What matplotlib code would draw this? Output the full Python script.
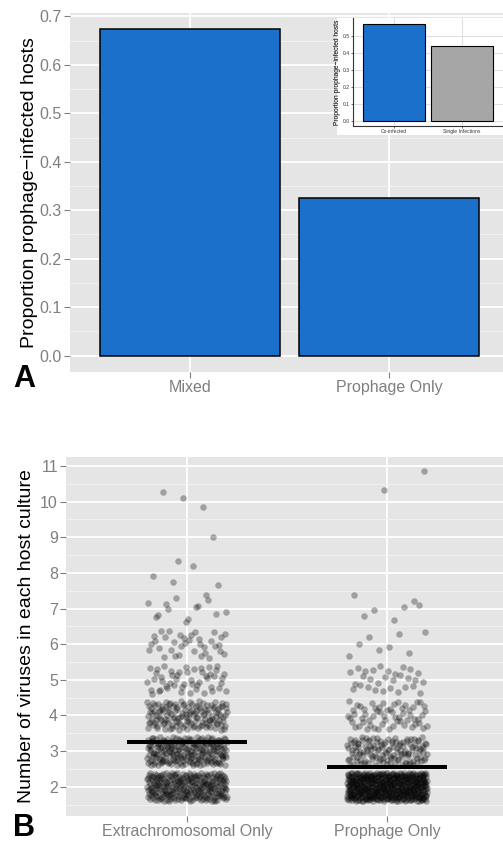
import matplotlib
matplotlib.use("Agg")
import matplotlib.pyplot as plt
from matplotlib.patches import Rectangle
from matplotlib.ticker import MultipleLocator
import numpy as np

plt.rcParams['font.family'] = ['Liberation Sans', 'DejaVu Sans']

# ---- panel A data ----
a_cats = ["Mixed", "Prophage Only"]
a_vals = [0.675, 0.325]

inset_cats = ["Co-infected", "Single Infections"]
inset_vals = [0.569, 0.440]

# ---- panel B data: number of cultures at each virus count ----
b_cats = ["Extrachromosomal Only", "Prophage Only"]
levels = [2, 3, 4, 5, 6, 7, 8, 9, 10, 11]
counts_extra = [260, 210, 140, 50, 35, 14, 5, 1, 3, 0]
counts_proph = [500, 130, 60, 30, 8, 7, 0, 0, 1, 1]
b_means = [3.26, 2.56]

BLUE = "#1A70CA"
GREY_BAR = "#A6A6A6"
PANEL = "#E5E5E5"
TICKC = "#7F7F7F"


def halton(i, base):
    f, r = 1.0, 0.0
    while i > 0:
        f /= base
        r += f * (i % base)
        i //= base
    return r


def gg_style(ax, minor_step):
    ax.set_facecolor(PANEL)
    for s in ax.spines.values():
        s.set_visible(False)
    ax.yaxis.set_minor_locator(MultipleLocator(minor_step))
    ax.grid(True, which='major', axis='both', color='white', lw=1.3, zorder=0)
    ax.grid(True, which='minor', axis='y', color='#F2F2F2', lw=0.7, zorder=0)
    ax.set_axisbelow(True)
    ax.tick_params(which='major', length=4.3, width=0.8, color=TICKC,
                   labelcolor=TICKC, labelsize=11.5, pad=1.5)
    ax.tick_params(which='minor', length=0)


fig = plt.figure(figsize=(5.03, 8.42), dpi=100)

# ---------------- Panel A ----------------
axA = fig.add_axes([70/503, 1-372/842, 433/503, 359/842])
gg_style(axA, 0.05)
xa = np.arange(1, len(a_cats)+1)
axA.bar(xa, a_vals, width=0.9, color=BLUE, edgecolor='black', lw=1.1, zorder=3)
axA.set_xticks(xa)
axA.set_xticklabels(a_cats)
axA.set_yticks(np.arange(0, 0.71, 0.1))
axA.set_ylim(-0.034, 0.707)
axA.set_xlim(0.397, 2.573)
axA.set_ylabel("Proportion prophage\u2212infected hosts", fontsize=14, color='black', labelpad=1)
fig.text(13/503, 1-387/842, "A", fontsize=22, fontweight='bold', ha='left', va='baseline')

# white backing behind the inset
fig.patches.append(Rectangle((337/503, 1-135/842), 166/503, 117/842,
                             transform=fig.transFigure, facecolor='white',
                             edgecolor='none', zorder=1))

axI = fig.add_axes([353/503, 1-126/842, 150/503, 108/842])
axI.set_zorder(2)
axI.set_facecolor('white')
xi = np.arange(1, len(inset_cats)+1)
axI.bar(xi, inset_vals, width=0.91, color=[BLUE, GREY_BAR], edgecolor='black', lw=0.8, zorder=3)
axI.set_xticks(xi)
axI.set_xticklabels(inset_cats)
axI.set_yticks(np.arange(0, 0.51, 0.1))
axI.set_ylim(-0.03, 0.604)
axI.set_xlim(0.4, 2.6)
axI.grid(True, color='#E0E0E0', lw=0.8, zorder=0)
axI.set_axisbelow(True)
for s in ['top', 'right']:
    axI.spines[s].set_visible(False)
for s in ['left', 'bottom']:
    axI.spines[s].set_color('#333333')
    axI.spines[s].set_linewidth(0.8)
axI.tick_params(length=1.5, width=0.5, labelsize=3.6, pad=1, colors='#333333')
axI.set_ylabel("Proportion prophage\u2212infected hosts", fontsize=4.8, labelpad=1)

# ---------------- Panel B ----------------
axB = fig.add_axes([66/503, 1-816/842, 437/503, 359/842])
gg_style(axB, 0.5)
k = 1
for ci, counts in enumerate([counts_extra, counts_proph]):
    xs, ys = [], []
    for lev, n in zip(levels, counts):
        for _ in range(n):
            xs.append(ci + 1 + (halton(k, 2) - 0.5) * 0.4)
            ys.append(lev + (halton(k, 3) - 0.5) * 0.8)
            k += 1
    axB.scatter(xs, ys, s=22, color='black', alpha=0.3, lw=0, zorder=3)
for ci, m in enumerate(b_means):
    axB.plot([ci + 1 - 0.3, ci + 1 + 0.3], [m, m], color='black', lw=2.9,
             solid_capstyle='butt', zorder=4)
axB.set_xticks([1, 2])
axB.set_xticklabels(b_cats)
axB.set_yticks(range(2, 12))
axB.set_ylim(1.18, 11.25)
axB.set_xlim(0.395, 2.58)
axB.set_ylabel("Number of viruses in each host culture", fontsize=14, color='black', labelpad=4)
fig.text(13/503, 1-836/842, "B", fontsize=22, fontweight='bold', ha='left', va='baseline')

plt.savefig("out.png", dpi=100)
